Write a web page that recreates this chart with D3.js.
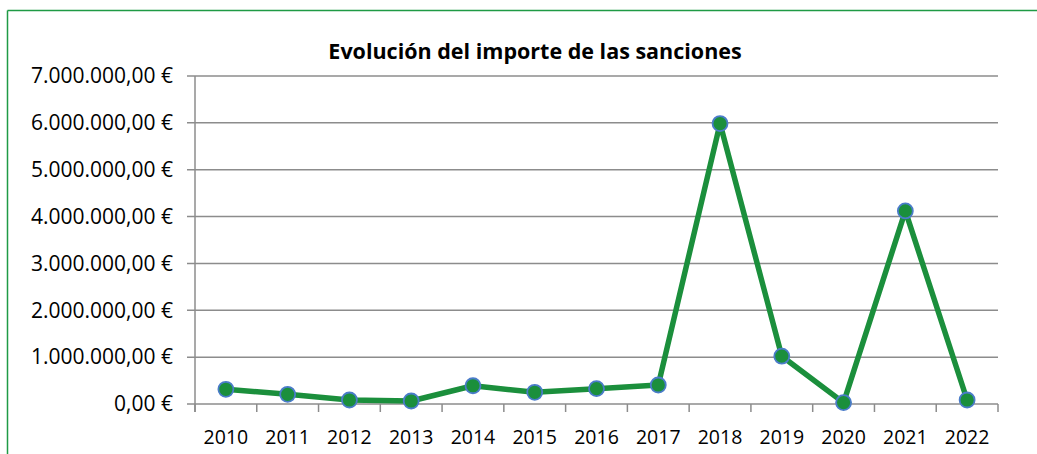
<!DOCTYPE html>
<html><head><meta charset="utf-8">
<script src="https://cdn.jsdelivr.net/npm/d3@7"></script>
<style>
html,body{margin:0;padding:0;background:#fff;overflow:hidden;}
svg{display:block;}
</style></head>
<body>
<svg id="chart" width="1037" height="454"></svg>
<script>
const years = ["2010","2011","2012","2013","2014","2015","2016","2017","2018","2019","2020","2021","2022"];
const importes = [314000, 207000, 85000, 64000, 390000, 250000, 327000, 405000, 5985000, 1020000, 30000, 4120000, 85000];
const yTicks = [0, 1000000, 2000000, 3000000, 4000000, 5000000, 6000000, 7000000];
const title = "Evolución del importe de las sanciones";

(function(){
const svg = d3.select("#chart");
const pL = 195, pR = 998, pT = 76, pB = 404;
const font = "'Open Sans', sans-serif";

// border (top and left edges only visible)
svg.append("line").attr("x1",7.5).attr("x2",1037).attr("y1",10.5).attr("y2",10.5)
  .attr("stroke","#1f9a45").attr("stroke-width",1.5);
svg.append("line").attr("x1",7.5).attr("x2",7.5).attr("y1",10.5).attr("y2",454)
  .attr("stroke","#1f9a45").attr("stroke-width",1.5);

const x = d3.scaleBand().domain(years).range([pL,pR]).padding(0);
const y = d3.scaleLinear().domain([0,7000000]).range([pB,pT]);

const fmt = v => {
  const s = d3.format(",.2f")(v);
  return s.replace(/,/g,"#").replace(".",",").replace(/#/g,".") + " €";
};

svg.append("g").selectAll("line").data(yTicks).join("line")
  .attr("x1",pL-8).attr("x2",pR)
  .attr("y1",d=>y(d)).attr("y2",d=>y(d))
  .attr("stroke","#8c8c8c").attr("stroke-width",1.5);

svg.append("line").attr("x1",pL).attr("x2",pL).attr("y1",pT).attr("y2",pB+8)
  .attr("stroke","#8c8c8c").attr("stroke-width",1.5);

const bounds = years.map(d=>x(d)).concat([pR]);
svg.append("g").selectAll("line").data(bounds).join("line")
  .attr("x1",d=>d).attr("x2",d=>d).attr("y1",pB).attr("y2",pB+8)
  .attr("stroke","#8c8c8c").attr("stroke-width",1.5);

svg.append("g").selectAll("text").data(yTicks).join("text")
  .attr("x",173).attr("y",d=>y(d)).attr("dy","0.35em")
  .attr("text-anchor","end").attr("font-family",font).attr("font-size","21px")
  .attr("fill","#000").text(fmt);

svg.append("g").selectAll("text").data(years).join("text")
  .attr("x",d=>x(d)+x.bandwidth()/2).attr("y",437).attr("dy","0.35em")
  .attr("text-anchor","middle").attr("font-family",font).attr("font-size","19.5px")
  .attr("fill","#000").text(d=>d);

svg.append("text").attr("x",535).attr("y",51).attr("dy","0.35em")
  .attr("text-anchor","middle").attr("font-family",font).attr("font-weight","bold")
  .attr("font-size","21.5px").attr("fill","#000").text(title);

const data = years.map((d,i)=>({year:d, v:importes[i]}));
const line = d3.line().x(d=>x(d.year)+x.bandwidth()/2).y(d=>y(d.v));
svg.append("path").datum(data).attr("d",line)
  .attr("fill","none").attr("stroke","#1b8f3c").attr("stroke-width",5.5)
  .attr("stroke-linejoin","round");

svg.append("g").selectAll("circle").data(data).join("circle")
  .attr("cx",d=>x(d.year)+x.bandwidth()/2).attr("cy",d=>y(d.v)).attr("r",7.5)
  .attr("fill","#1b8f3c").attr("stroke","#4a7cc9").attr("stroke-width",1.8);
})();
</script>
</body></html>
